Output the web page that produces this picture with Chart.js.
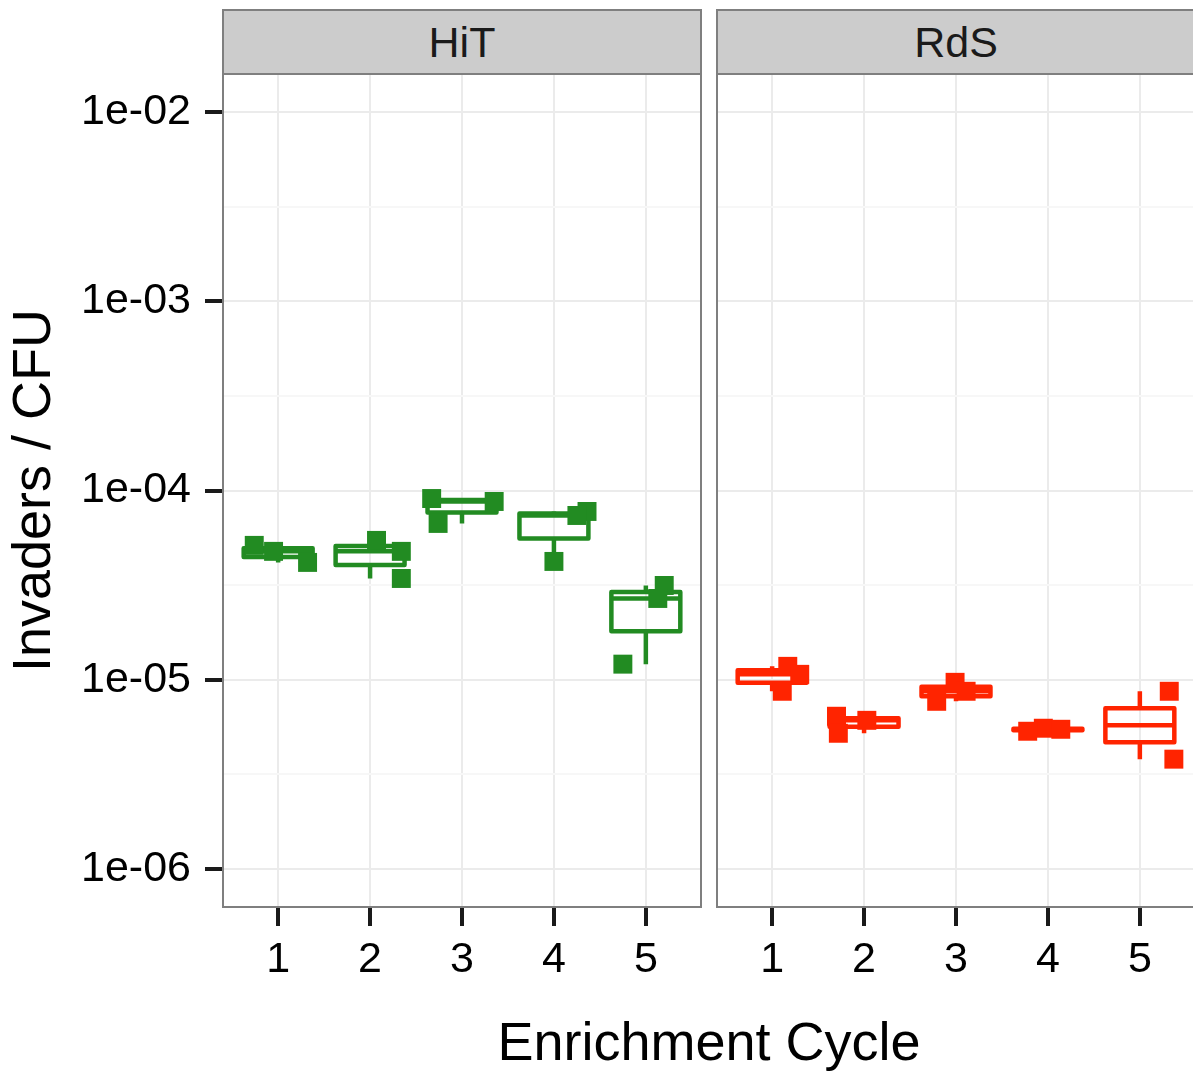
<!DOCTYPE html>
<html lang="en">
<head>
  <meta charset="UTF-8" />
  <title>Invaders / CFU by Enrichment Cycle</title>
  <script src="https://cdn.jsdelivr.net/npm/chart.js"></script>
  <style>
    body {
      margin: 0;
      background: #fff;
      width: 1193px;
      height: 1072px;
      overflow: hidden;
      position: relative;
      font-family: "Liberation Sans", Arial, sans-serif;
    }

    canvas {
      position: absolute;
      top: 0;
    }

    .strip {
      position: absolute;
      top: 9px;
      height: 66px;
      width: 480px;
      box-sizing: border-box;
      background: #cccccc;
      border: 2px solid #7f7f7f;
      color: #1a1a1a;
      font-size: 43px;
      display: flex;
      align-items: center;
      justify-content: center;
    }

    #xtitle {
      position: absolute;
      left: 223px;
      width: 972px;
      top: 1014px;
      text-align: center;
      font-size: 54px;
      line-height: 54px;
      color: #000;
    }
  </style>
</head>
<body>
  <canvas id="hitChart" width="704" height="1072" style="left:0"></canvas>
  <canvas id="rdsChart" width="484" height="1072" style="left:714px"></canvas>
  <div class="strip" style="left:222px">HiT</div>
  <div class="strip" style="left:716px">RdS</div>
  <div id="xtitle">Enrichment Cycle</div>

  <script>
    const cycles = [1, 2, 3, 4, 5];

    const yTickValues = [1e-6, 1e-5, 1e-4, 1e-3, 1e-2];
    const yTickLabels = ['1e-06', '1e-05', '1e-04', '1e-03', '1e-02'];
    const yMinorValues = [3.162e-6, 3.162e-5, 3.162e-4, 3.162e-3];

    // replicate measurements per cycle (invaders / CFU)
    const hitValues = [
      [5.13e-5, 4.77e-5, 4.17e-5],
      [5.45e-5, 4.77e-5, 3.43e-5],
      [9.07e-5, 8.75e-5, 6.70e-5],
      [7.75e-5, 7.38e-5, 4.22e-5],
      [3.15e-5, 2.69e-5, 1.21e-5]
    ];
    const rdsValues = [
      [1.178e-5, 1.069e-5, 8.70e-6],
      [6.42e-6, 6.11e-6, 5.22e-6],
      [9.70e-6, 8.70e-6, 7.70e-6],
      [5.55e-6, 5.48e-6, 5.35e-6],
      [8.70e-6, 3.81e-6]
    ];

    // horizontal jitter of each replicate, in cycle units
    const hitJitter = [
      [-0.26, -0.05, 0.32],
      [0.07, 0.34, 0.34],
      [-0.33, 0.35, -0.26],
      [0.36, 0.25, 0.0],
      [0.2, 0.13, -0.25]
    ];
    const rdsJitter = [
      [0.17, 0.30, 0.11],
      [-0.30, 0.03, -0.28],
      [-0.01, 0.11, -0.21],
      [-0.05, 0.14, -0.22],
      [0.32, 0.37]
    ];

    const hitColor = '#228b22';
    const rdsColor = '#ff2400';
    const boxWidth = 0.75;
    const fontFamily = '"Liberation Sans", Arial, sans-serif';

    // quantile type 7, on log10 values like a log-scaled boxplot
    function quantile(sorted, p) {
      const h = (sorted.length - 1) * p;
      const lo = Math.floor(h), hi = Math.ceil(h);
      return sorted[lo] + (h - lo) * (sorted[hi] - sorted[lo]);
    }

    function boxStats(vals) {
      const logs = vals.map(v => Math.log10(v)).sort((a, b) => a - b);
      const q1 = quantile(logs, 0.25), med = quantile(logs, 0.5), q3 = quantile(logs, 0.75);
      const iqr = q3 - q1;
      const inside = logs.filter(v => v >= q1 - 1.5 * iqr && v <= q3 + 1.5 * iqr);
      return {
        min: 10 ** Math.min(...inside),
        q1: 10 ** q1,
        median: 10 ** med,
        q3: 10 ** q3,
        max: 10 ** Math.max(...inside)
      };
    }

    const boxPlugin = {
      id: 'boxes',
      beforeDatasetsDraw(chart, args, opts) {
        const { ctx, scales: { x, y } } = chart;
        ctx.save();
        ctx.strokeStyle = opts.color;
        ctx.lineWidth = 4.5;
        ctx.lineJoin = 'round';
        opts.groups.forEach((vals, i) => {
          const s = boxStats(vals);
          const cx = x.getPixelForValue(cycles[i]);
          const x0 = x.getPixelForValue(cycles[i] - boxWidth / 2);
          const x1 = x.getPixelForValue(cycles[i] + boxWidth / 2);
          const yq1 = y.getPixelForValue(s.q1);
          const yq3 = y.getPixelForValue(s.q3);
          const ymed = y.getPixelForValue(s.median);
          ctx.beginPath();
          ctx.moveTo(cx, yq3);
          ctx.lineTo(cx, y.getPixelForValue(s.max));
          ctx.moveTo(cx, yq1);
          ctx.lineTo(cx, y.getPixelForValue(s.min));
          ctx.stroke();
          ctx.strokeRect(x0, yq3, x1 - x0, yq1 - yq3);
          ctx.beginPath();
          ctx.moveTo(x0, ymed);
          ctx.lineTo(x1, ymed);
          ctx.stroke();
        });
        ctx.restore();
      },
      afterDraw(chart) {
        const { ctx, chartArea: a } = chart;
        ctx.save();
        ctx.strokeStyle = '#7f7f7f';
        ctx.lineWidth = 2;
        ctx.strokeRect(a.left, a.top, a.right - a.left, a.bottom - a.top);
        ctx.restore();
      }
    };

    function isMajor(v) {
      return yTickValues.some(t => Math.abs(Math.log10(t) - Math.log10(v)) < 1e-6);
    }

    function makeChart(id, values, jitter, color, showY) {
      const points = values.flatMap((vals, i) =>
        vals.map((v, j) => ({ x: cycles[i] + jitter[i][j], y: v })));

      return new Chart(document.getElementById(id), {
        type: 'scatter',
        data: {
          datasets: [{
            data: points,
            pointStyle: 'rect',
            pointRadius: 13.4,
            pointBorderWidth: 0,
            backgroundColor: color,
            borderColor: color
          }]
        },
        options: {
          responsive: false,
          animation: false,
          events: [],
          layout: {
            autoPadding: false,
            padding: showY ? { top: 74, right: 3, left: 0, bottom: 0 } : { top: 74, right: 3, left: 3, bottom: 0 }
          },
          plugins: {
            legend: { display: false },
            tooltip: { enabled: false },
            boxes: { groups: values, color: color }
          },
          scales: {
            x: {
              type: 'linear',
              min: 0.4,
              max: 5.6,
              afterBuildTicks: scale => { scale.ticks = cycles.map(c => ({ value: c })); },
              afterFit: scale => { scale.height = 165; },
              border: { display: false },
              grid: {
                color: '#ebebeb',
                lineWidth: 2,
                tickLength: 19,
                tickColor: '#1a1a1a',
                tickWidth: 4
              },
              ticks: {
                autoSkip: false,
                maxRotation: 0,
                padding: 8,
                color: '#000',
                font: { size: 43, family: fontFamily },
                callback: v => String(v)
              }
            },
            y: {
              type: 'logarithmic',
              min: 10 ** -6.2,
              max: 10 ** -1.8,
              afterBuildTicks: scale => {
                scale.ticks = [...yTickValues, ...yMinorValues]
                  .sort((a, b) => a - b)
                  .map(v => ({ value: v }));
              },
              afterFit: scale => { scale.width = showY ? 223 : 0; },
              border: { display: false },
              grid: {
                color: ctx => isMajor(ctx.tick.value) ? '#ebebeb' : '#f7f7f7',
                lineWidth: 2,
                drawTicks: showY,
                tickLength: 18,
                tickWidth: 4,
                tickColor: ctx => isMajor(ctx.tick.value) ? '#1a1a1a' : 'rgba(0,0,0,0)'
              },
              ticks: {
                display: showY,
                autoSkip: false,
                padding: 14,
                color: '#000',
                font: { size: 43, family: fontFamily },
                callback: v => {
                  const i = yTickValues.findIndex(t => Math.abs(Math.log10(t) - Math.log10(v)) < 1e-6);
                  return i >= 0 ? yTickLabels[i] : '';
                }
              },
              title: {
                display: showY,
                text: 'Invaders / CFU',
                color: '#000',
                font: { size: 54, family: fontFamily },
                padding: { top: 3, bottom: 0 }
              }
            }
          }
        },
        plugins: [boxPlugin]
      });
    }

    makeChart('hitChart', hitValues, hitJitter, hitColor, true);
    makeChart('rdsChart', rdsValues, rdsJitter, rdsColor, false);
  </script>
</body>
</html>
